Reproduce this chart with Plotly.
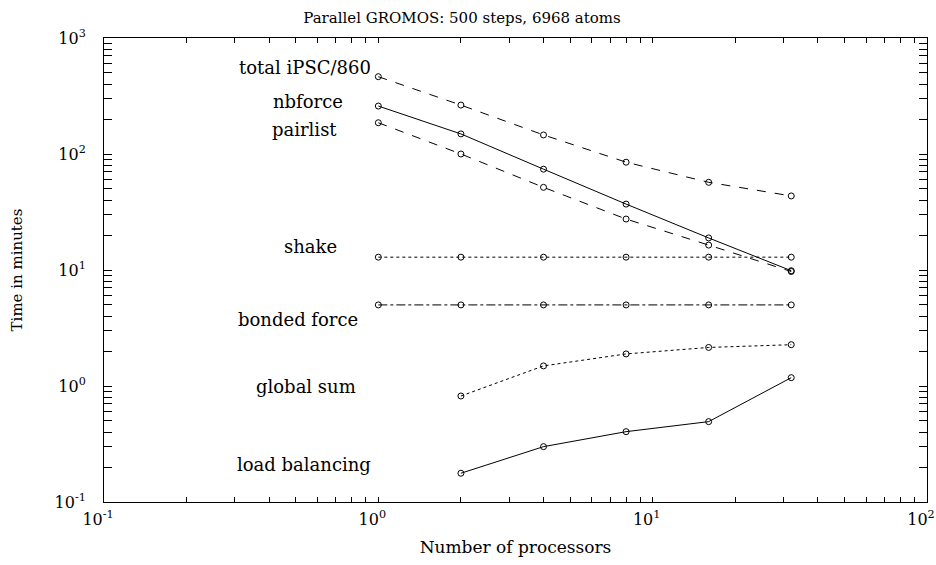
import numpy as np
import plotly.graph_objects as go

processors = [1, 2, 4, 8, 16, 32]
total_ipsc = [464, 264, 146, 85, 57, 43.5]
nbforce = [259, 149, 74, 37, 18.9, 9.86]
pairlist = [186, 100, 51.6, 27.5, 16.4, 9.7]
shake = [12.9, 12.9, 12.9, 12.9, 12.9, 12.9]
bonded_force = [5.0, 5.0, 5.0, 5.0, 5.0, 5.0]
global_sum_x = [2, 4, 8, 16, 32]
global_sum = [0.82, 1.49, 1.89, 2.15, 2.27]
load_bal_x = [2, 4, 8, 16, 32]
load_balancing = [0.177, 0.30, 0.404, 0.493, 1.18]

series = [
    ("total iPSC/860", processors, total_ipsc, "dash"),
    ("nbforce", processors, nbforce, "solid"),
    ("pairlist", processors, pairlist, "dash"),
    ("shake", processors, shake, "dot"),
    ("bonded force", processors, bonded_force, "dashdot"),
    ("global sum", global_sum_x, global_sum, "dot"),
    ("load balancing", load_bal_x, load_balancing, "solid"),
]

# label positions (data units: processors, minutes)
label_x = [0.541, 0.552, 0.536, 0.564, 0.508, 0.546, 0.538]
label_y = [562, 281, 162, 15.9, 3.71, 0.986, 0.211]

x_tickvals = [0.1, 1, 10, 100]
x_ticktext = ["10<sup>-1</sup>", "10<sup>0</sup>", "10<sup>1</sup>", "10<sup>2</sup>"]
y_tickvals = [0.1, 1, 10, 100, 1000]
y_ticktext = ["10<sup>-1</sup>", "10<sup>0</sup>", "10<sup>1</sup>", "10<sup>2</sup>", "10<sup>3</sup>"]

FONT = "DejaVu Serif"

fig = go.Figure()
for name, xs, ys, dash in series:
    fig.add_trace(go.Scatter(
        x=xs, y=ys, mode="lines+markers", name=name,
        line=dict(color="black", width=1, dash=dash),
        marker=dict(symbol="circle-open", size=6, color="black", line=dict(width=1, color="black")),
        showlegend=False,
    ))

for (name, *_), lx, ly in zip(series, label_x, label_y):
    fig.add_annotation(
        x=np.log10(lx), y=np.log10(ly), xref="x", yref="y",
        text=name, showarrow=False, xanchor="center", yanchor="middle",
        font=dict(family=FONT, size=18, color="black"),
    )

axis_common = dict(
    type="log", showgrid=False, zeroline=False, automargin=False,
    showline=True, linecolor="black", linewidth=1, mirror="ticks",
    ticks="inside", tickcolor="black", tickwidth=1,
    tickfont=dict(family=FONT, size=16, color="black"),
)

fig.update_xaxes(
    **axis_common, range=[-1, 2.00001], tickvals=x_tickvals, ticktext=x_ticktext, ticklen=5,
    minor=dict(ticks="inside", ticklen=5, tickcolor="black", tickwidth=1, dtick="D1"),
    ticklabelstandoff=3, ticklabelshift=-6, ticklabeloverflow="allow",
    title=dict(text="Number of processors", font=dict(family=FONT, size=17, color="black"), standoff=12),
)
fig.update_yaxes(
    **axis_common, range=[-1, 3], tickvals=y_tickvals, ticktext=y_ticktext, ticklen=8,
    minor=dict(ticks="inside", ticklen=8, tickcolor="black", tickwidth=1, dtick="D1"),
    ticklabelstandoff=14,
    title=dict(text="Time in minutes", font=dict(family=FONT, size=15, color="black"), standoff=28),
)

fig.update_layout(
    width=936, height=565,
    margin=dict(l=104, r=9, t=38, b=63),
    paper_bgcolor="white", plot_bgcolor="white",
    title=dict(text="Parallel GROMOS: 500 steps, 6968 atoms", x=462 / 936, xanchor="center",
               xref="container", y=1 - 18 / 565, yanchor="middle",
               font=dict(family=FONT, size=15, color="black")),
)

fig.write_html("out.html", config={"displayModeBar": False},
               post_script="document.body.style.margin='0';")
